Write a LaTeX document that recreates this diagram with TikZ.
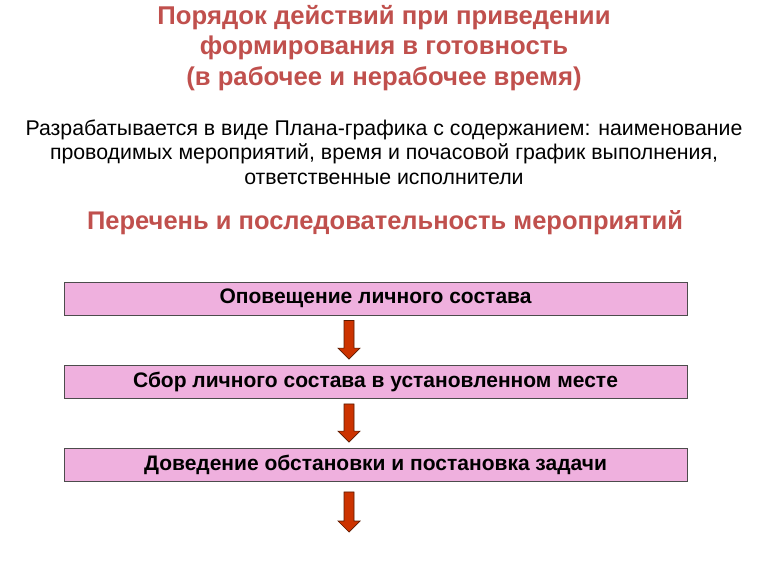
\documentclass[tikz,border=0pt]{standalone}
\usepackage{fontspec}
\setmainfont{Liberation Sans}
\usetikzlibrary{calc}
\definecolor{titlered}{HTML}{C0504D}
\definecolor{boxpink}{HTML}{EFB0DE}
\definecolor{arrowred}{HTML}{CC3300}
\definecolor{arrowline}{HTML}{5A1A00}

\begin{document}
\begin{tikzpicture}[x=1pt, y=-1pt,
  stepbox/.style={rectangle, draw=black!70, fill=boxpink, line width=0.8pt, minimum width=623pt, minimum height=33pt, inner sep=0pt, font=\fontsize{21}{22}\selectfont\bfseries},
  flow/.style={draw=arrowline, fill=arrowred, line width=0.7pt, to path={let \p1=(\tikztostart), \p2=(\tikztotarget) in
    (\x1-5pt,\y1-5pt) -- (\x1+5pt,\y1-5pt) -- (\x1+5pt,\y2+17pt) -- (\x1+11pt,\y2+17pt) -- (\x1,\y2+6pt)
    -- (\x1-11pt,\y2+17pt) -- (\x1-5pt,\y2+17pt) -- cycle}}]
  \useasboundingbox (0,0) rectangle (768,576);

  \node (title) [align=center, text=titlered, font=\fontsize{25.7}{30.5}\selectfont\bfseries] at (384, 48)
    {Порядок действий при приведении\\формирования в готовность\\(в рабочее и нерабочее время)};
  \node (plan) [align=center, font=\fontsize{21.3}{24.5}\selectfont] at (384, 152)
    {Разрабатывается в виде Плана-графика с содержанием: наименование\\проводимых мероприятий, время и почасовой график выполнения,\\ответственные исполнители};
  \node (list) [text=titlered, font=\fontsize{25.5}{28}\selectfont\bfseries] at (385, 223)
    {Перечень и последовательность мероприятий};

  \node (b1) [stepbox] at (375.5, 298.5) {Оповещение личного состава};
  \node (b2) [stepbox] at (375.5, 382) {Сбор личного состава в установленном месте};
  \node (b3) [stepbox] at (375.5, 465) {Доведение обстановки и постановка задачи};
  \coordinate (end) at (349, 538);

  \draw[flow] (b1.south -| end) to (b2.north -| end);
  \draw[flow] (b2.south -| end) to (b3.north -| end);
  \draw[flow] ([yshift=-5pt]b3.south -| end) to (end);
\end{tikzpicture}
\end{document}
